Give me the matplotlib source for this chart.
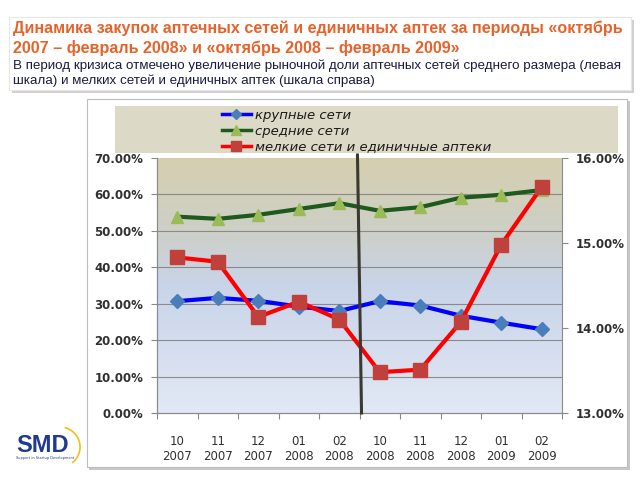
import matplotlib
matplotlib.use("Agg")
import matplotlib.pyplot as plt
import numpy as np
from matplotlib.lines import Line2D
from matplotlib.patches import Rectangle, Arc
from matplotlib.colors import LinearSegmentedColormap

plt.rcParams["font.family"] = ["DejaVu Sans"]

# ---- data -------------------------------------------------------------
months = ["10", "11", "12", "01", "02", "10", "11", "12", "01", "02"]
years = ["2007", "2007", "2007", "2008", "2008", "2008", "2008", "2008", "2009", "2009"]
large_chains = [30.7, 31.6, 30.8, 29.2, 28.0, 30.7, 29.5, 26.7, 24.8, 23.0]    # left, %
medium_chains = [53.9, 53.3, 54.4, 56.0, 57.6, 55.5, 56.5, 59.1, 59.9, 61.2]   # left, %
small_single = [14.83, 14.78, 14.13, 14.31, 14.10, 13.48, 13.51, 14.07, 14.98, 15.66]  # right, %
left_ticks = [0, 10, 20, 30, 40, 50, 60, 70]
right_ticks = [13, 14, 15, 16]

title = ("Динамика закупок аптечных сетей и единичных аптек за периоды «октябрь\n"
         "2007 – февраль 2008» и «октябрь 2008 – февраль 2009»")
subtitle = ("В период кризиса отмечено увеличение рыночной доли аптечных сетей среднего размера (левая\n"
            "шкала) и мелких сетей и единичных аптек (шкала справа)")
legend_labels = ["крупные сети", "средние сети", "мелкие сети и единичные аптеки"]

W, H = 640, 480
fig = plt.figure(figsize=(6.4, 4.8), dpi=100)
fig.patch.set_facecolor("white")


def px_rect(x0, y0, x1, y1, **kw):
    # rectangle given in pixel coords (origin top-left)
    return Rectangle((x0 / W, 1 - y1 / H), (x1 - x0) / W, (y1 - y0) / H,
                     transform=fig.transFigure, zorder=-5, **kw)


# title box with shadow
fig.add_artist(px_rect(12, 20, 634, 93, facecolor="#d0d0d0", edgecolor="none"))
fig.add_artist(px_rect(9, 17, 631, 90, facecolor="white", edgecolor="#e6e6e6", lw=0.8))
# chart box with shadow
fig.add_artist(px_rect(89, 101, 630, 470, facecolor="#c8c8c8", edgecolor="none"))
fig.add_artist(px_rect(87, 99, 627, 467, facecolor="white", edgecolor="#bdbdbd", lw=0.8))
# legend box
fig.add_artist(px_rect(115, 106, 618, 153, facecolor="#dcd9c6", edgecolor="none"))

fig.text(13 / W, 1 - 21 / H, title, ha="left", va="top", fontsize=11.6,
         fontweight="bold", color="#e8632b", family="Liberation Sans", linespacing=1.3)
fig.text(13 / W, 1 - 59 / H, subtitle, ha="left", va="top", fontsize=9.6,
         color="#1a1a40", family="Liberation Sans", linespacing=1.3)

# ---- plot area --------------------------------------------------------
ax = fig.add_axes([157 / W, 1 - 413 / H, (562 - 157) / W, (413 - 158) / H])
ax.set_xlim(-0.5, 9.5)
ax.set_ylim(0, 70)

grad = LinearSegmentedColormap.from_list("bg", [
    (0.0, (226 / 255, 232 / 255, 245 / 255)),
    (0.5, (200 / 255, 212 / 255, 232 / 255)),
    (0.72, (206 / 255, 207 / 255, 198 / 255)),
    (1.0, (214 / 255, 207 / 255, 176 / 255)),
])
ax.imshow(np.linspace(0, 1, 256).reshape(-1, 1), cmap=grad, origin="lower",
          extent=(-0.5, 9.5, 0, 70), aspect="auto", zorder=0)

for t in left_ticks[1:-1]:
    ax.axhline(t, color="#8a8a8a", lw=0.8, zorder=1)

x = np.arange(len(months))
ax.plot(x, large_chains, color="#0000ff", lw=3, marker="D", ms=7,
        mfc="#4a7ebb", mec="#4a7ebb", zorder=3)
ax.plot(x, medium_chains, color="#1e5a1e", lw=3, marker="^", ms=9,
        mfc="#9bbb59", mec="#9bbb59", zorder=3)

ax2 = ax.twinx()
ax2.set_ylim(13, 16)
ax2.plot(x, small_single, color="#ff0000", lw=3, marker="s", ms=10,
         mfc="#c0403c", mec="#c0403c", zorder=4)

# vertical divider between the two periods
ax2.plot([4.45, 4.55], [16.035, 13.0], color="#3a3a30", lw=2.2, zorder=5, clip_on=False)

for a in (ax, ax2):
    a.spines["top"].set_visible(False)
    a.spines["left"].set_color("#8a8a8a")
    a.spines["right"].set_color("#8a8a8a")
    a.spines["bottom"].set_color("#8a8a8a")

ax.spines["right"].set_visible(False)
ax.set_yticks(left_ticks)
ax.set_yticklabels([f"{v:.2f}%" for v in left_ticks])
ax2.set_yticks(right_ticks)
ax2.set_yticklabels([f"{v:.2f}%" for v in right_ticks])
ax.set_xticks(np.arange(-0.5, 10, 1.0))
ax.set_xticklabels([])
ax.set_xticks(x, minor=True)
ax.set_xticklabels([f"{m}\n{y}" for m, y in zip(months, years)], minor=True,
                   linespacing=1.15)
ax.tick_params(axis="x", which="major", length=4, color="#8a8a8a")
ax.tick_params(axis="x", which="minor", length=0, pad=16, labelsize=8.5, labelcolor="#303030")
ax.tick_params(axis="y", length=4, color="#8a8a8a", labelsize=8.5, labelcolor="#303030", pad=6)
ax2.tick_params(axis="y", length=4, color="#8a8a8a", labelsize=8.5, labelcolor="#303030", pad=6)
for lbl in ax.get_yticklabels() + ax2.get_yticklabels():
    lbl.set_fontweight("bold")

# ---- legend -----------------------------------------------------------
handles = [
    Line2D([], [], color="#0000ff", lw=2.5, marker="D", ms=5, mfc="#4a7ebb", mec="#4a7ebb"),
    Line2D([], [], color="#1e5a1e", lw=2.5, marker="^", ms=7, mfc="#9bbb59", mec="#9bbb59"),
    Line2D([], [], color="#ff0000", lw=2.5, marker="s", ms=7, mfc="#c0403c", mec="#c0403c"),
]
fig.legend(handles, legend_labels, loc="upper left", bbox_to_anchor=(210 / W, 1 - 97 / H),
           frameon=False, handlelength=2.2, handletextpad=0.3, labelspacing=0.2,
           prop={"style": "italic", "size": 9.5}, labelcolor="#1a1a1a")

# ---- logo -------------------------------------------------------------
fig.text(16 / W, 1 - 452 / H, "SMD", fontsize=17, fontweight="bold", color="#1f3a8f",
         family="Liberation Sans", ha="left", va="baseline")
fig.text(16 / W, 1 - 459 / H, "Support in Startup Development", fontsize=2.5,
         color="#1f3a8f", ha="left", va="baseline")
fig.add_artist(Arc((60 / W, 1 - 447 / H), 40 / W, 40 / H, theta1=-60, theta2=80,
                   transform=fig.transFigure, color="#f0c020", lw=1.2))

fig.savefig("out.png", dpi=100)
